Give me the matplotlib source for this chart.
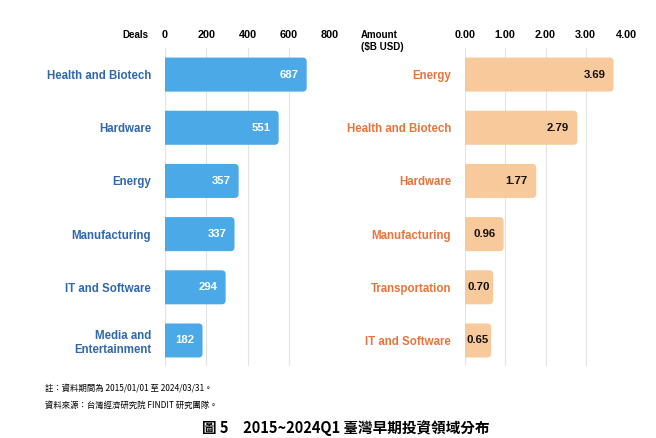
import matplotlib
matplotlib.use("Agg")
import matplotlib.pyplot as plt
from matplotlib.patches import FancyBboxPatch

plt.rcParams['font.family'] = ['Liberation Sans', 'Noto Sans CJK TC', 'DejaVu Sans']

# 資料
deal_cats = ['Health and Biotech', 'Hardware', 'Energy', 'Manufacturing',
             'IT and Software', 'Media and\nEntertainment']
deal_vals = [687, 551, 357, 337, 294, 182]
deal_ticks = [0, 200, 400, 600, 800]

amt_cats = ['Energy', 'Health and Biotech', 'Hardware', 'Manufacturing',
            'Transportation', 'IT and Software']
amt_vals = [3.69, 2.79, 1.77, 0.96, 0.70, 0.65]
amt_ticks = [0, 1, 2, 3, 4]

note1 = '註：資料期間為 2015/01/01 至 2024/03/31。'
note2 = '資料來源：台灣經濟研究院 FINDIT 研究團隊。'
title = '圖 5　2015~2024Q1 臺灣早期投資領域分布'

BLUE = '#4ba9e8'
BLUE_TXT = '#2f68ad'
ORANGE = '#f8ca9b'
ORANGE_TXT = '#e8743b'
CJK = ['Noto Sans CJK TC', 'DejaVu Sans']

fig = plt.figure(figsize=(6.56, 4.38), dpi=100)
ax1 = fig.add_axes([165 / 656, 1 - 366 / 438, 165 / 656, 318 / 438])
ax2 = fig.add_axes([465 / 656, 1 - 366 / 438, 161 / 656, 318 / 438])


def rounded(ax, bars, rad_px=4):
    # 換成右側圓角長條 (左側被座標軸裁掉)
    p0 = ax.transData.transform((0, 0))
    p1 = ax.transData.transform((1, 1))
    sx = abs(p1[0] - p0[0])
    sy = abs(p1[1] - p0[1])
    r = rad_px / sx
    for b in bars:
        x, y, w, h = b.get_x(), b.get_y(), b.get_width(), b.get_height()
        fc = b.get_facecolor()
        b.remove()
        p = FancyBboxPatch((x - 2 * r, y), w + 2 * r, h,
                           boxstyle='round,pad=0,rounding_size=%f' % r,
                           mutation_aspect=sx / sy,
                           facecolor=fc, edgecolor='none', zorder=2)
        ax.add_patch(p)
    return sx


def panel(ax, cats, vals, ticks, color, txtcolor, valcolor, fmt, xmax):
    ypos = list(range(len(cats)))
    ax.set_xlim(0, xmax)
    ax.set_ylim(len(cats) - 0.52, -0.5)
    bars = ax.barh(ypos, vals, height=0.64, color=color, zorder=2)
    fig.canvas.draw()
    sx = rounded(ax, bars)
    ax.set_xticks(ticks)
    ax.set_xticklabels([fmt.format(t) for t in ticks], fontsize=7.8,
                       fontweight='bold')
    ax.xaxis.tick_top()
    ax.tick_params(axis='x', length=0, pad=6)
    ax.set_yticks(ypos)
    ax.set_yticklabels(cats, fontsize=8.3, fontweight='bold', color=txtcolor)
    ax.tick_params(axis='y', length=0, pad=10)
    ax.grid(axis='x', color='#e3e3e3', linewidth=0.8, zorder=0)
    for s in ax.spines.values():
        s.set_visible(False)
    rend = fig.canvas.get_renderer()
    for y, v in zip(ypos, vals):
        t = ax.annotate(fmt.format(v), (v, y), xytext=(-6, 0),
                        textcoords='offset points', ha='right', va='center',
                        fontsize=8.2, fontweight='bold', color=valcolor, zorder=3)
        tw = t.get_window_extent(rend).width
        if tw + 16 > v * sx:
            # 放不下就置中
            t.xy = (v / 2, y)
            t.set_position((0, 0))
            t.set_ha('center')


panel(ax1, deal_cats, deal_vals, deal_ticks, BLUE, BLUE_TXT, 'white', '{:d}', 800)
panel(ax2, amt_cats, amt_vals, amt_ticks, ORANGE, ORANGE_TXT, '#111111', '{:.2f}', 4)

fig.text(148 / 656, 1 - 35 / 438, 'Deals', fontsize=7, fontweight='bold',
         ha='right', va='center')
fig.text(361 / 656, 1 - 41 / 438, 'Amount\n($B USD)', fontsize=7,
         fontweight='bold', ha='left', va='center', linespacing=1.2)

fig.text(45 / 656, 1 - 389 / 438, note1, fontsize=6, ha='left', va='center',
         family=CJK)
fig.text(45 / 656, 1 - 405 / 438, note2, fontsize=6, ha='left', va='center',
         family=CJK)
fig.text(346 / 656, 1 - 428 / 438, title, fontsize=10.5, fontweight='bold',
         ha='center', va='center', family=CJK)

fig.savefig('out.png', dpi=100)
